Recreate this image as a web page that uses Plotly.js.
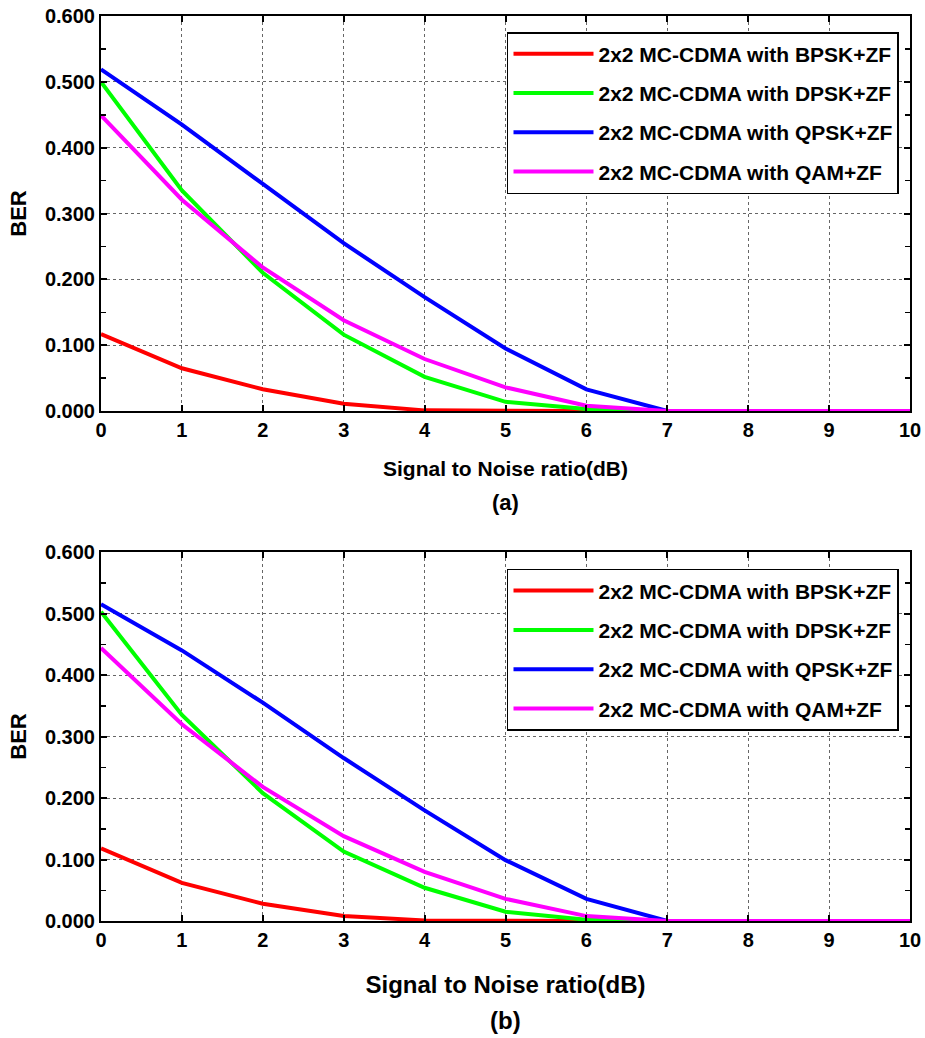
<!DOCTYPE html>
<html>
<head>
<meta charset="utf-8">
<script src="https://cdn.plot.ly/plotly-3.0.1.min.js"></script>
<style>html,body{margin:0;padding:0;background:#fff;}#chart{width:925px;height:1038px;}</style>
</head>
<body>
<div id="chart"></div>
<script>
// SNR values (dB)
const snr = [0, 1, 2, 3, 4, 5, 6, 7, 8, 9, 10];
const seriesNames = [
  "2x2 MC-CDMA with BPSK+ZF",
  "2x2 MC-CDMA with DPSK+ZF",
  "2x2 MC-CDMA with QPSK+ZF",
  "2x2 MC-CDMA with QAM+ZF"
];
// Panel (a)
const bpskA = [0.117, 0.065, 0.033, 0.011, 0.001, 0.000, 0.000, 0.000, 0.000, 0.000, 0.000];
const dpskA = [0.500, 0.335, 0.210, 0.116, 0.052, 0.014, 0.003, 0.000, 0.000, 0.000, 0.000];
const qpskA = [0.519, 0.435, 0.345, 0.255, 0.173, 0.095, 0.033, 0.000, 0.000, 0.000, 0.000];
const qamA  = [0.449, 0.321, 0.218, 0.138, 0.079, 0.036, 0.008, 0.000, 0.000, 0.000, 0.000];
// Panel (b)
const bpskB = [0.118, 0.062, 0.028, 0.008, 0.001, 0.000, 0.000, 0.000, 0.000, 0.000, 0.000];
const dpskB = [0.503, 0.335, 0.208, 0.113, 0.054, 0.015, 0.002, 0.000, 0.000, 0.000, 0.000];
const qpskB = [0.515, 0.440, 0.355, 0.265, 0.180, 0.099, 0.036, 0.000, 0.000, 0.000, 0.000];
const qamB  = [0.444, 0.320, 0.218, 0.138, 0.080, 0.036, 0.008, 0.000, 0.000, 0.000, 0.000];
const yTicks = [0, 0.1, 0.2, 0.3, 0.4, 0.5, 0.6];
const xTicks = [0, 1, 2, 3, 4, 5, 6, 7, 8, 9, 10];
const xTitle = "Signal to Noise ratio(dB)";
const yTitle = "BER";
const panelLabels = ["(a)", "(b)"];

const colors = ["#ff0000", "#00ff00", "#0000ff", "#ff00ff"];
const FONT = "'Liberation Sans', Arial, sans-serif";

const dataA = [bpskA, dpskA, qpskA, qamA];
const dataB = [bpskB, dpskB, qpskB, qamB];
const traces = [];
dataA.forEach((ys, i) => traces.push({
  x: snr, y: ys, type: "scatter", mode: "lines", name: seriesNames[i],
  line: {color: colors[i], width: 4}, xaxis: "x", yaxis: "y", legend: "legend",
  legendgroup: "a" + i
}));
dataB.forEach((ys, i) => traces.push({
  x: snr, y: ys, type: "scatter", mode: "lines", name: seriesNames[i],
  line: {color: colors[i], width: 4}, xaxis: "x2", yaxis: "y2", legend: "legend2",
  legendgroup: "b" + i
}));

function xAx(anchor, titleSize, standoff) {
  return {
    anchor: anchor, domain: [0, 1], range: [0, 10], tickvals: xTicks,
    ticktext: xTicks.map(String),
    showline: true, linecolor: "#000", linewidth: 2, mirror: "ticks",
    ticks: "inside", ticklen: 6, tickwidth: 2, tickcolor: "#000",
    showgrid: true, gridcolor: "#666", griddash: "dot", gridwidth: 1,
    zeroline: false,
    tickfont: {family: FONT, size: 20, color: "#000", weight: "bold"},
    title: {text: xTitle, font: {family: FONT, size: titleSize, color: "#000", weight: "bold"}, standoff: standoff}
  };
}
function yAx(anchor, domain) {
  return {
    anchor: anchor, domain: domain, range: [0, 0.6], tickvals: yTicks,
    ticktext: yTicks.map(v => v.toFixed(3)),
    showline: true, linecolor: "#000", linewidth: 2, mirror: "ticks",
    ticks: "inside", ticklen: 6, tickwidth: 2, tickcolor: "#000",
    minor: {dtick: 0.05, tick0: 0, ticks: "inside", ticklen: 5, tickwidth: 1.5, tickcolor: "#000", showgrid: false},
    showgrid: true, gridcolor: "#666", griddash: "dot", gridwidth: 1,
    zeroline: false,
    tickfont: {family: FONT, size: 20, color: "#000", weight: "bold"},
    title: {text: yTitle, font: {family: FONT, size: 22, color: "#000", weight: "bold"}, standoff: 12}
  };
}
function leg(yTop) {
  return {
    x: 0.9864, xanchor: "right", y: yTop, yanchor: "top",
    bgcolor: "#fff", bordercolor: "#000", borderwidth: 1.5,
    font: {family: FONT, size: 21, color: "#000", weight: "bold"},
    itemwidth: 80, tracegroupgap: 9, traceorder: "grouped"
  };
}
const labelFont = {family: FONT, size: 22, color: "#000", weight: "bold"};
const layout = {
  width: 925, height: 1038,
  margin: {l: 101, r: 15, t: 16, b: 117},
  paper_bgcolor: "#fff", plot_bgcolor: "#fff",
  showlegend: true,
  xaxis: xAx("y", 21, 21),
  xaxis2: xAx("y2", 24, 26),
  yaxis: yAx("x", [0.5635, 1]),
  yaxis2: yAx("x2", [0, 0.4077]),
  legend: leg(0.9823),
  legend2: leg(0.389),
  annotations: [
    {text: panelLabels[0], xref: "paper", yref: "paper", x: 0.5, y: 0.4619, xanchor: "center", yanchor: "middle", showarrow: false, font: labelFont},
    {text: panelLabels[1], xref: "paper", yref: "paper", x: 0.5, y: -0.1094, xanchor: "center", yanchor: "middle", showarrow: false, font: {family: FONT, size: 24, color: "#000", weight: "bold"}}
  ]
};
Plotly.newPlot("chart", traces, layout, {staticPlot: true, displayModeBar: false});
</script>
</body>
</html>
